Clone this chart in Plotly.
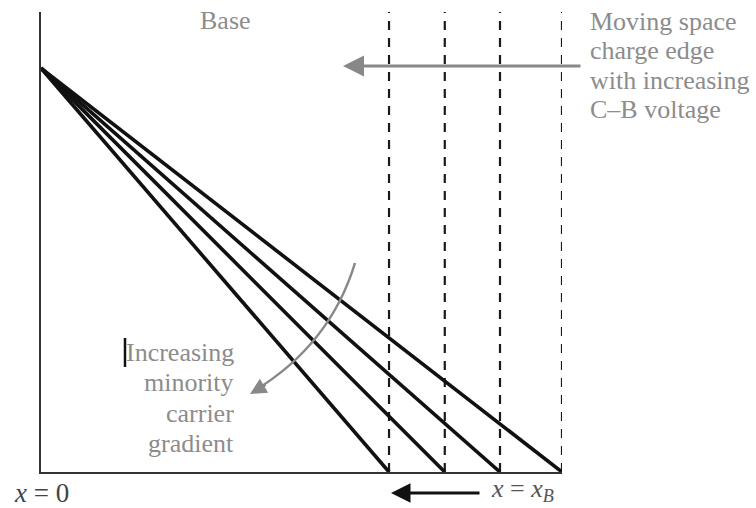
import plotly.graph_objects as go

# --- data (normalized units) ---
edge_positions = [0.668, 0.775, 0.881, 1.0]   # space-charge edge x_B positions
n0 = 1.0                                      # minority carrier concentration at x = 0
y_top = 1.139

W, H = 756, 508
L, R, T, B = 41, 194, 12, 36
pw, ph = W - L - R, H - T - B

def PX(px):
    return (px - L) / pw

def PY(py):
    return (H - B - py) / ph

fig = go.Figure()

# dashed lines marking the space charge edge
for xb in edge_positions:
    fig.add_trace(go.Scatter(x=[xb, xb], y=[0, y_top], mode="lines",
                             line=dict(color="#1a1a1a", width=2.2, dash="9px,8px"),
                             hoverinfo="skip", showlegend=False))

# minority carrier profiles
for xb in edge_positions:
    fig.add_trace(go.Scatter(x=[0, xb], y=[n0, 0], mode="lines",
                             line=dict(color="#111", width=3.6),
                             hoverinfo="skip", showlegend=False))

gray = "#8c8c8c"
serif = "Liberation Serif"
fs = 26

def txt(px, py, t, anchor, color=gray, size=fs):
    return dict(x=PX(px), y=PY(py), xref="paper", yref="paper", text=t, showarrow=False,
                font=dict(family=serif, size=size, color=color), xanchor=anchor, yanchor="middle")

def arrow(hx, hy, tx, ty, color, width, size):
    return dict(x=PX(hx), y=PY(hy), xref="paper", yref="paper", ax=tx - hx, ay=ty - hy,
                text="", showarrow=True, arrowhead=2, arrowsize=size,
                arrowwidth=width, arrowcolor=color, standoff=0, startstandoff=0)

ann = [txt(225, 20, "Base", "center")]
for i, t in enumerate(["Moving space", "charge edge", "with increasing", "C\u2013B voltage"]):
    ann.append(txt(588, 22 + 29 * i, t, "left"))
for i, t in enumerate(["Increasing", "minority", "carrier", "gradient"]):
    ann.append(txt(236, 352 + 30.5 * i, t, "right"))

ann.append(arrow(343, 66, 582, 66, "#888", 3, 1.4))      # horizontal gray arrow
ann.append(arrow(250, 394, 267, 384, "#888", 2.5, 1.3))  # curved arrow head
ann.append(arrow(391, 493, 481, 493, "#111", 3, 1.3))    # bottom black arrow

ann.append(txt(41, 493, "<i>x</i> = 0", "center", "#444", 27))
ann.append(txt(489, 490, "<i>x</i> = <i>x</i><sub><i>B</i></sub>", "left", "#555", 26))

shapes = [
    dict(type="path", xref="paper", yref="paper",
         path=f"M {PX(355)},{PY(263)} Q {PX(330)},{PY(345)} {PX(254)},{PY(391)}",
         line=dict(color="#888", width=2.5)),
    dict(type="line", xref="paper", yref="paper", x0=PX(125), x1=PX(125), y0=PY(338), y1=PY(367),
         line=dict(color="#111", width=2.5)),
]

fig.update_layout(
    width=W, height=H,
    margin=dict(l=L, r=R, t=T, b=B),
    paper_bgcolor="white", plot_bgcolor="white",
    showlegend=False,
    annotations=ann, shapes=shapes,
    xaxis=dict(range=[0, 1], showgrid=False, zeroline=False, showticklabels=False,
               ticks="", showline=True, linecolor="#333", linewidth=2),
    yaxis=dict(range=[0, y_top], showgrid=False, zeroline=False, showticklabels=False,
               ticks="", showline=True, linecolor="#333", linewidth=2),
)

fig.write_html("out.html", config={"displayModeBar": False},
               post_script="document.body.style.margin='0';")
